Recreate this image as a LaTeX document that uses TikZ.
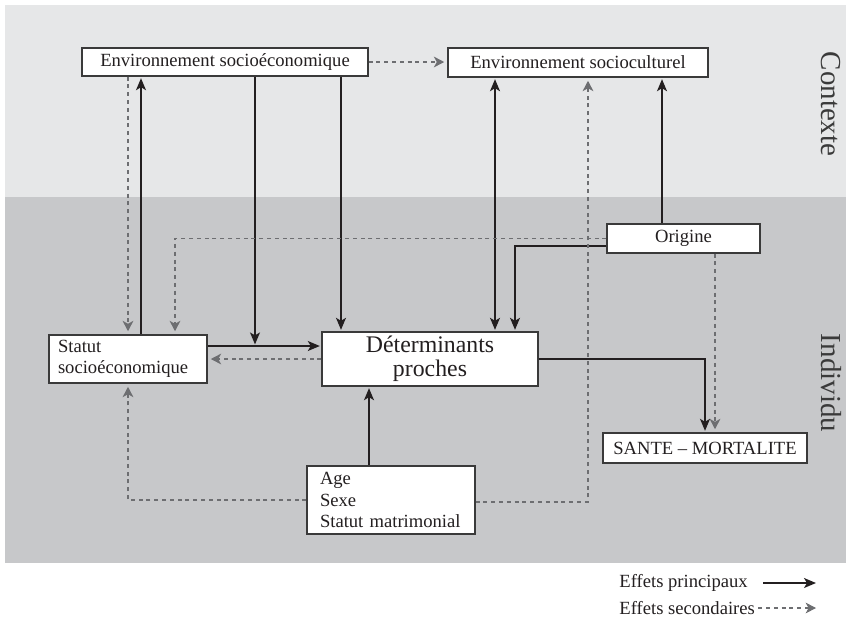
\documentclass[tikz,border=0pt]{standalone}
\usepackage{fontspec}
\setmainfont{Liberation Serif}
\usetikzlibrary{arrows.meta}

\definecolor{contextfill}{HTML}{E6E7E8}
\definecolor{individufill}{HTML}{C7C8CA}
\definecolor{mainline}{HTML}{231F20}
\definecolor{secline}{HTML}{6D6E71}
\definecolor{boxline}{HTML}{3A3A3A}

\begin{document}
\begin{tikzpicture}
[x=0.5pt,y=-0.5pt,
box/.style={rectangle,draw=boxline,fill=white,line width=0.6pt,inner sep=0pt,text=mainline,font=\fontsize{9.3}{10.8}\selectfont},
main/.style={draw=mainline,line width=0.7pt,-{Stealth[length=6pt,width=5pt,inset=1.5pt]},shorten >=0.8pt},
both/.style={draw=mainline,line width=0.7pt,{Stealth[length=6pt,width=5pt,inset=1.5pt]}-{Stealth[length=6pt,width=5pt,inset=1.5pt]},shorten >=0.8pt,shorten <=0.8pt},
secondary/.style={draw=secline,line width=0.55pt,dash pattern=on 2pt off 1.9pt,-{Stealth[length=5.2pt,width=5.4pt,inset=1.5pt]},shorten >=1.6pt},
side/.style={rotate=-90,text=boxline,font=\fontsize{14.5}{16}\selectfont},
legend/.style={inner sep=0pt,text=mainline,font=\fontsize{9.3}{10.8}\selectfont}]

\useasboundingbox (0,0) rectangle (846,618);

% Drawing panels
\fill[contextfill] (5,5) rectangle (846,197);
\fill[individufill] (5,197) rectangle (846,563);
\foreach \lbl/\ypos in {Contexte/104,Individu/383} {
	\node[side] (\lbl) at (831,\ypos) {\lbl};
}

% Drawing boxes
\node[box,minimum width=143pt,minimum height=14pt] (envse) at (225,62) {Environnement socioéconomique};
\node[box,minimum width=130pt,minimum height=14.5pt] (envsc) at (578,62.5) {Environnement socioculturel};
\node[box,minimum width=76.5pt,minimum height=14.5pt] (origine) at (683.5,238.5) {Origine};
\node[box,minimum width=79pt,minimum height=24pt,align=left,text width=70pt] (statut) at (128,359) {Statut\\socioéconomique};
\node[box,minimum width=108pt,minimum height=27pt,align=center,font=\fontsize{11.9}{12.2}\selectfont] (det) at (430,359) {\raisebox{-1.2pt}{Déterminants}\\\raisebox{-1.2pt}{proches}};
\node[box,minimum width=84pt,minimum height=34pt,align=left,text width=71pt] (age) at (391,500) {Age\\Sexe\\Statut matrimonial};
\node[box,minimum width=102pt,minimum height=15pt] (sante) at (705,448) {SANTE -- MORTALITE};

% Helper points on the boxes
\coordinate (sesup) at ([xshift=6.5pt]statut.north);
\coordinate (hline) at ([yshift=6.5pt]statut.east);
\coordinate (envse3) at ([xshift=15pt]envse.south);
\coordinate (envse4) at ([xshift=58pt]envse.south);
\coordinate (detsc) at ([xshift=32.5pt]det.north);
\coordinate (origup) at ([xshift=-10.75pt]origine.north);
\coordinate (origdown) at ([xshift=15.75pt]origine.south);
\coordinate (ageup) at ([xshift=-11pt]age.north);

% Drawing main effects
\draw[main] (sesup) -- (sesup |- envse.south);
\draw[main] (envse3) -- (envse3 |- hline);
\draw[main] (envse4) -- (envse4 |- det.north);
\draw[main] (hline) -- (hline -| det.west);
\draw[main] ([yshift=-3.75pt]origine.west) -| ([xshift=42.5pt]det.north);
\draw[both] (detsc) -- (detsc |- envsc.south);
\draw[main] (origup) -- (origup |- envsc.south);
\draw[main] (ageup) -- (ageup |- det.south);
\draw[main] (det.east) -| (sante.north);

% Drawing secondary effects
\draw[secondary] (envse.east) -- (envse.east -| envsc.west);
\draw[secondary] (statut.north |- envse.south) -- (statut.north);
\draw[secondary] (det.west) -- (statut.east);
\draw[secondary] (origine.west) -| ([xshift=23.5pt]statut.north);
\draw[secondary] ([yshift=-1pt]age.east) -| ([xshift=5pt]envsc.south);
\draw[secondary] (age.west) -| (statut.south);
\draw[secondary] (origdown) -- (origdown |- sante.north);

% Drawing legend
\node[legend,anchor=west] (lmain) at (619,583) {Effets principaux};
\node[legend,anchor=west] (lsec) at (619,608) {Effets secondaires};
\coordinate (lmainend) at (816,583);
\coordinate (lsecend) at (816,608);
\draw[main,shorten >=0pt] ([xshift=7.5pt]lmain.east) -- (lmainend);
\draw[secondary,shorten >=0pt] ([xshift=1.5pt]lsec.east) -- (lsecend);
\end{tikzpicture}
\end{document}
